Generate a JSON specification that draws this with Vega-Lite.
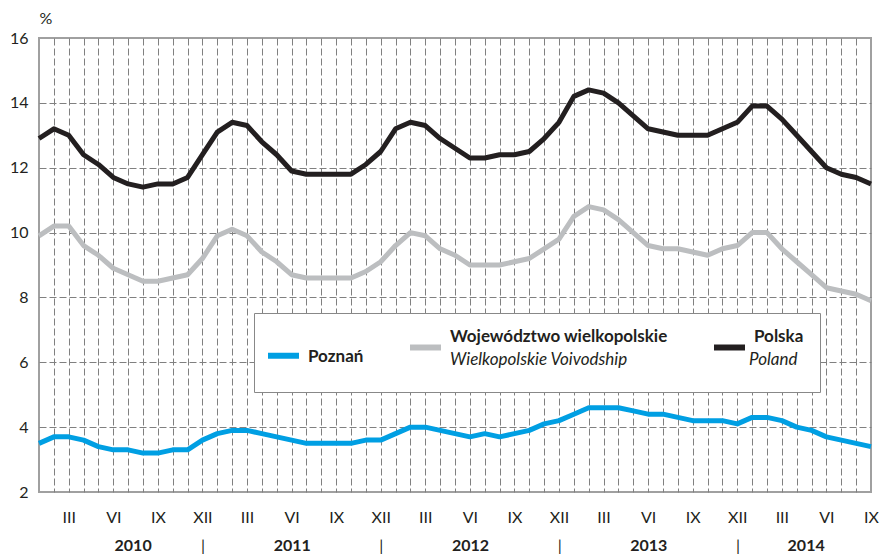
{
"$schema": "https://vega.github.io/schema/vega-lite/v6.json",
"width": 832, "height": 454,
"autosize": {"type": "none"},
"padding": {"left": 39, "top": 38, "right": 12, "bottom": 63},
"background": "white",
"config": {"view": {"stroke": "#a0a0a0", "strokeWidth": 2}, "font": "Lato"},
"datasets": {"names": [
 {"series": "Poznań", "en": "Poznań"},
 {"series": "Województwo wielkopolskie", "en": "Wielkopolskie Voivodship"},
 {"series": "Polska", "en": "Poland"}
]},
"data": {"values": [
{"month":"2010-01","t":0,"Poznań":3.5,"Województwo wielkopolskie":9.9,"Polska":12.9},
{"month":"2010-02","t":1,"Poznań":3.7,"Województwo wielkopolskie":10.2,"Polska":13.2},
{"month":"2010-03","t":2,"Poznań":3.7,"Województwo wielkopolskie":10.2,"Polska":13.0},
{"month":"2010-04","t":3,"Poznań":3.6,"Województwo wielkopolskie":9.6,"Polska":12.4},
{"month":"2010-05","t":4,"Poznań":3.4,"Województwo wielkopolskie":9.3,"Polska":12.1},
{"month":"2010-06","t":5,"Poznań":3.3,"Województwo wielkopolskie":8.9,"Polska":11.7},
{"month":"2010-07","t":6,"Poznań":3.3,"Województwo wielkopolskie":8.7,"Polska":11.5},
{"month":"2010-08","t":7,"Poznań":3.2,"Województwo wielkopolskie":8.5,"Polska":11.4},
{"month":"2010-09","t":8,"Poznań":3.2,"Województwo wielkopolskie":8.5,"Polska":11.5},
{"month":"2010-10","t":9,"Poznań":3.3,"Województwo wielkopolskie":8.6,"Polska":11.5},
{"month":"2010-11","t":10,"Poznań":3.3,"Województwo wielkopolskie":8.7,"Polska":11.7},
{"month":"2010-12","t":11,"Poznań":3.6,"Województwo wielkopolskie":9.2,"Polska":12.4},
{"month":"2011-01","t":12,"Poznań":3.8,"Województwo wielkopolskie":9.9,"Polska":13.1},
{"month":"2011-02","t":13,"Poznań":3.9,"Województwo wielkopolskie":10.1,"Polska":13.4},
{"month":"2011-03","t":14,"Poznań":3.9,"Województwo wielkopolskie":9.9,"Polska":13.3},
{"month":"2011-04","t":15,"Poznań":3.8,"Województwo wielkopolskie":9.4,"Polska":12.8},
{"month":"2011-05","t":16,"Poznań":3.7,"Województwo wielkopolskie":9.1,"Polska":12.4},
{"month":"2011-06","t":17,"Poznań":3.6,"Województwo wielkopolskie":8.7,"Polska":11.9},
{"month":"2011-07","t":18,"Poznań":3.5,"Województwo wielkopolskie":8.6,"Polska":11.8},
{"month":"2011-08","t":19,"Poznań":3.5,"Województwo wielkopolskie":8.6,"Polska":11.8},
{"month":"2011-09","t":20,"Poznań":3.5,"Województwo wielkopolskie":8.6,"Polska":11.8},
{"month":"2011-10","t":21,"Poznań":3.5,"Województwo wielkopolskie":8.6,"Polska":11.8},
{"month":"2011-11","t":22,"Poznań":3.6,"Województwo wielkopolskie":8.8,"Polska":12.1},
{"month":"2011-12","t":23,"Poznań":3.6,"Województwo wielkopolskie":9.1,"Polska":12.5},
{"month":"2012-01","t":24,"Poznań":3.8,"Województwo wielkopolskie":9.6,"Polska":13.2},
{"month":"2012-02","t":25,"Poznań":4.0,"Województwo wielkopolskie":10.0,"Polska":13.4},
{"month":"2012-03","t":26,"Poznań":4.0,"Województwo wielkopolskie":9.9,"Polska":13.3},
{"month":"2012-04","t":27,"Poznań":3.9,"Województwo wielkopolskie":9.5,"Polska":12.9},
{"month":"2012-05","t":28,"Poznań":3.8,"Województwo wielkopolskie":9.3,"Polska":12.6},
{"month":"2012-06","t":29,"Poznań":3.7,"Województwo wielkopolskie":9.0,"Polska":12.3},
{"month":"2012-07","t":30,"Poznań":3.8,"Województwo wielkopolskie":9.0,"Polska":12.3},
{"month":"2012-08","t":31,"Poznań":3.7,"Województwo wielkopolskie":9.0,"Polska":12.4},
{"month":"2012-09","t":32,"Poznań":3.8,"Województwo wielkopolskie":9.1,"Polska":12.4},
{"month":"2012-10","t":33,"Poznań":3.9,"Województwo wielkopolskie":9.2,"Polska":12.5},
{"month":"2012-11","t":34,"Poznań":4.1,"Województwo wielkopolskie":9.5,"Polska":12.9},
{"month":"2012-12","t":35,"Poznań":4.2,"Województwo wielkopolskie":9.8,"Polska":13.4},
{"month":"2013-01","t":36,"Poznań":4.4,"Województwo wielkopolskie":10.5,"Polska":14.2},
{"month":"2013-02","t":37,"Poznań":4.6,"Województwo wielkopolskie":10.8,"Polska":14.4},
{"month":"2013-03","t":38,"Poznań":4.6,"Województwo wielkopolskie":10.7,"Polska":14.3},
{"month":"2013-04","t":39,"Poznań":4.6,"Województwo wielkopolskie":10.4,"Polska":14.0},
{"month":"2013-05","t":40,"Poznań":4.5,"Województwo wielkopolskie":10.0,"Polska":13.6},
{"month":"2013-06","t":41,"Poznań":4.4,"Województwo wielkopolskie":9.6,"Polska":13.2},
{"month":"2013-07","t":42,"Poznań":4.4,"Województwo wielkopolskie":9.5,"Polska":13.1},
{"month":"2013-08","t":43,"Poznań":4.3,"Województwo wielkopolskie":9.5,"Polska":13.0},
{"month":"2013-09","t":44,"Poznań":4.2,"Województwo wielkopolskie":9.4,"Polska":13.0},
{"month":"2013-10","t":45,"Poznań":4.2,"Województwo wielkopolskie":9.3,"Polska":13.0},
{"month":"2013-11","t":46,"Poznań":4.2,"Województwo wielkopolskie":9.5,"Polska":13.2},
{"month":"2013-12","t":47,"Poznań":4.1,"Województwo wielkopolskie":9.6,"Polska":13.4},
{"month":"2014-01","t":48,"Poznań":4.3,"Województwo wielkopolskie":10.0,"Polska":13.9},
{"month":"2014-02","t":49,"Poznań":4.3,"Województwo wielkopolskie":10.0,"Polska":13.9},
{"month":"2014-03","t":50,"Poznań":4.2,"Województwo wielkopolskie":9.5,"Polska":13.5},
{"month":"2014-04","t":51,"Poznań":4.0,"Województwo wielkopolskie":9.1,"Polska":13.0},
{"month":"2014-05","t":52,"Poznań":3.9,"Województwo wielkopolskie":8.7,"Polska":12.5},
{"month":"2014-06","t":53,"Poznań":3.7,"Województwo wielkopolskie":8.3,"Polska":12.0},
{"month":"2014-07","t":54,"Poznań":3.6,"Województwo wielkopolskie":8.2,"Polska":11.8},
{"month":"2014-08","t":55,"Poznań":3.5,"Województwo wielkopolskie":8.1,"Polska":11.7},
{"month":"2014-09","t":56,"Poznań":3.4,"Województwo wielkopolskie":7.9,"Polska":11.5}
]},
"transform": [
 {"fold": ["Poznań", "Województwo wielkopolskie", "Polska"], "as": ["series", "value"]},
 {"lookup": "series", "from": {"data": {"name": "names"}, "key": "series", "fields": ["en"]}}
],
"mark": {"type": "line", "strokeWidth": 5, "strokeJoin": "round"},
"encoding": {
 "x": {"field": "t", "type": "quantitative",
  "scale": {"domain": [0, 56], "nice": false, "zero": false},
  "axis": {
   "title": null,
   "values": [0,1,2,3,4,5,6,7,8,9,10,11,12,13,14,15,16,17,18,19,20,21,22,23,24,25,26,27,28,29,30,31,32,33,34,35,36,37,38,39,40,41,42,43,44,45,46,47,48,49,50,51,52,53,54,55,56,6.3,17.01,29.01,41.01,51.6,11.01,23.01,35.01,47.01],
   "labelExpr": "datum.value == 6.3 ? ['', '2010'] : datum.value == 17.01 ? ['', '2011'] : datum.value == 29.01 ? ['', '2012'] : datum.value == 41.01 ? ['', '2013'] : datum.value == 51.6 ? ['', '2014'] : (datum.value % 1 != 0) ? ['', '|'] : datum.value % 12 == 2 ? 'III' : datum.value % 12 == 5 ? 'VI' : datum.value % 12 == 8 ? 'IX' : datum.value % 12 == 11 ? 'XII' : ''",
   "ticks": false, "domain": false,
   "grid": true, "gridColor": "#808080", "gridDash": [7, 3], "gridWidth": 1,
   "gridOpacity": {"condition": {"test": "datum.value <= 0 || datum.value >= 56 || datum.value % 1 != 0", "value": 0}, "value": 1},
   "labelFont": "Lato", "labelFontSize": 16, "labelColor": "#231f20",
   "labelFontWeight": {"condition": {"test": "indexof([6.3, 17.01, 29.01, 41.01, 51.6], datum.value) >= 0", "value": "bold"}, "value": "normal"},
   "labelPadding": 17, "labelLineHeight": 28.5,
   "labelOverlap": false, "labelBound": false, "labelFlush": false
  }},
 "y": {"field": "value", "type": "quantitative",
  "scale": {"domain": [2, 16], "nice": false, "zero": false},
  "axis": {
   "values": [2,4,6,8,10,12,14,16],
   "ticks": false, "domain": false,
   "grid": true, "gridColor": "#808080", "gridDash": [7, 3], "gridWidth": 1,
   "gridOpacity": {"condition": {"test": "datum.value <= 2 || datum.value >= 16", "value": 0}, "value": 1},
   "labelFont": "Lato", "labelFontSize": 16, "labelColor": "#231f20", "labelPadding": 11, "labelFlush": false,
   "title": "%", "titleAngle": 0, "titleAlign": "left", "titleBaseline": "alphabetic",
   "titleX": 0, "titleY": -15, "titleFont": "Lato", "titleFontSize": 16, "titleFontWeight": "normal", "titleColor": "#231f20"
  }},
 "color": {"field": "series", "type": "nominal",
  "scale": {"domain": ["Poznań", "Województwo wielkopolskie", "Polska"], "range": ["#009fe3", "#bcbec0", "#231f20"]},
  "legend": {
   "orient": "none", "legendX": 215, "legendY": 275, "direction": "horizontal", "columns": 3,
   "title": null, "padding": 16, "fillColor": "white", "strokeColor": "#888888",
   "symbolType": "stroke", "symbolStrokeWidth": 6, "symbolSize": 961, "symbolOffset": -5,
   "labelFont": "Lato", "labelFontSize": 17, "labelFontWeight": "bold", "labelColor": "#231f20",
   "labelOffset": 6, "columnPadding": 34, "labelLimit": 400,
   "labelExpr": "datum.label == 'Poznań' ? datum.label : [datum.label, '']",
   "encode": {"labels": {"update": {"lineHeight": {"value": 31}, "dy": {"signal": "datum.label == 'Poznań' ? 1.5 : -10.5"}}}}
  }},
 "opacity": {"field": "en", "type": "nominal",
  "scale": {"domain": ["Poznań", "Wielkopolskie Voivodship", "Poland"], "range": [1, 1]},
  "legend": {
   "orient": "none", "legendX": 357, "legendY": 275, "direction": "horizontal", "columns": 2,
   "title": null, "padding": 16, "values": ["Wielkopolskie Voivodship", "Poland"],
   "symbolType": "stroke", "symbolStrokeWidth": 0, "symbolSize": 1369, "symbolOffset": -5,
   "labelFont": "Lato", "labelFontSize": 17, "labelFontStyle": "italic", "labelFontWeight": "normal", "labelColor": "#231f20",
   "labelOffset": 6, "columnPadding": 78, "labelLimit": 400,
   "encode": {"labels": {"update": {"dy": {"value": 12.5}}}}
  }}
}
}
